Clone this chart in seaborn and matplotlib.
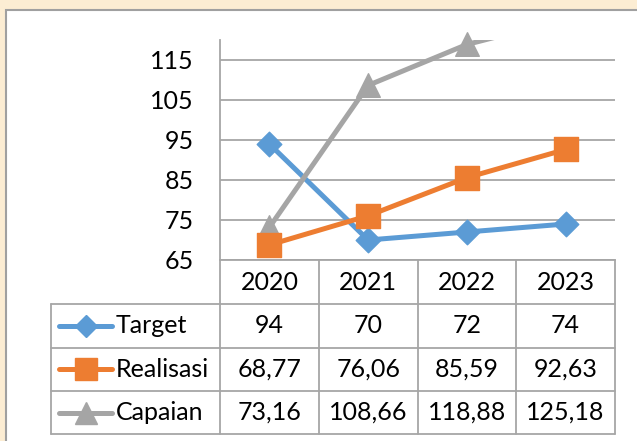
import matplotlib
matplotlib.use("Agg")
import matplotlib.pyplot as plt
import matplotlib.transforms as mtransforms
from matplotlib.patches import Rectangle
from matplotlib.lines import Line2D
import numpy as np
import pandas as pd
import seaborn as sns

# data
years = ["2020", "2021", "2022", "2023"]
target = [94, 70, 72, 74]
realisasi = [68.77, 76.06, 85.59, 92.63]
capaian = [73.16, 108.66, 118.88, 125.18]
series_names = ["Target", "Realisasi", "Capaian"]
y_ticks = [65, 75, 85, 95, 105, 115]

colors = {"Target": "#5B9BD5", "Realisasi": "#ED7D31", "Capaian": "#A5A5A5"}
markers = {"Target": "D", "Realisasi": "s", "Capaian": "^"}
msize = {"Target": 12.5, "Realisasi": 17, "Capaian": 17}
zorders = {"Target": 3, "Realisasi": 5, "Capaian": 4}
grid_c = "#A6A6A6"
FS = 18

sns.set_theme(style="white")
plt.rcParams["font.family"] = ["Lato", "DejaVu Sans"]

W, H = 637, 441
fig = plt.figure(figsize=(W / 100, H / 100), dpi=100)
fig.patch.set_facecolor("#FCEDD3")

# white chart frame (left and top border visible)
fig.patches.append(Rectangle((6 / W, -0.05), 1.2, (H - 10) / H + 0.05,
                             transform=fig.transFigure, facecolor="white",
                             edgecolor="#A0A0A0", lw=1.5, zorder=-5))

ax = fig.add_axes([220 / W, (H - 260) / H, 395 / W, 220 / H])
ax.set_facecolor("none")

df = pd.DataFrame({"pos": np.arange(len(years)), "Target": target,
                   "Realisasi": realisasi, "Capaian": capaian})

for name in series_names:
    sns.lineplot(data=df, x="pos", y=name, ax=ax, color=colors[name],
                 linewidth=3.6, solid_capstyle="round", solid_joinstyle="round",
                 zorder=zorders[name])
    shown = df[df[name] <= 120]
    sns.scatterplot(data=shown, x="pos", y=name, ax=ax, marker=markers[name],
                    s=msize[name] ** 2, color=colors[name], edgecolor=colors[name],
                    linewidth=1, clip_on=False, zorder=zorders[name] + 0.5, legend=False)

ax.set_xlim(-0.5, 3.5)
ax.set_ylim(65, 120)
ax.set_yticks(y_ticks)
ax.set_xticks([])
ax.set_xlabel("")
ax.set_ylabel("")
ax.yaxis.grid(True, color=grid_c, lw=1.3)
ax.tick_params(axis="y", length=0, pad=19, labelsize=FS, colors="black")
for s in ["top", "right"]:
    ax.spines[s].set_visible(False)
for s in ["left", "bottom"]:
    ax.spines[s].set_color(grid_c)
    ax.spines[s].set_linewidth(1.3)

# data table below the axis
trans = mtransforms.blended_transform_factory(ax.transData, ax.transAxes)
row_px = [260, 304, 347.5, 391, 434]
row_y = [(260 - p) / 220 for p in row_px]
px_per_cat = 395 / 4


def px_to_x(p):
    return -0.5 + (p - 220) / px_per_cat


x_left = px_to_x(51)
x_right = 3.5
line_kw = dict(transform=trans, color=grid_c, lw=1.3, clip_on=False, zorder=1)

for y in row_y[1:]:
    ax.add_line(Line2D([x_left, x_right], [y, y], **line_kw))
for x in [-0.5, 0.5, 1.5, 2.5, 3.5]:
    ax.add_line(Line2D([x, x], [0, row_y[-1]], **line_kw))
ax.add_line(Line2D([x_left, x_left], [row_y[1], row_y[-1]], **line_kw))

# header
for i, yr in enumerate(years):
    ax.text(i, (row_y[0] + row_y[1]) / 2, yr, transform=trans, ha="center",
            va="center", fontsize=FS, color="black")

table_vals = {
    "Target": [str(v) for v in target],
    "Realisasi": [f"{v:.2f}".replace(".", ",") for v in realisasi],
    "Capaian": [f"{v:.2f}".replace(".", ",") for v in capaian],
}

for r, name in enumerate(series_names):
    yc = (row_y[r + 1] + row_y[r + 2]) / 2
    # legend key
    ax.add_line(Line2D([px_to_x(59), px_to_x(112)], [yc, yc], transform=trans,
                       color=colors[name], lw=3.6, solid_capstyle="round", clip_on=False))
    ax.add_line(Line2D([px_to_x(85.5)], [yc], transform=trans, marker=markers[name],
                       markersize=msize[name] * 0.9, color=colors[name],
                       markeredgecolor=colors[name], clip_on=False))
    ax.text(px_to_x(116), yc, name, transform=trans, ha="left", va="center",
            fontsize=FS, color="black")
    for i, t in enumerate(table_vals[name]):
        ax.text(i, yc, t, transform=trans, ha="center", va="center",
                fontsize=FS, color="black")

fig.savefig("out.png", dpi=100, facecolor=fig.get_facecolor())
